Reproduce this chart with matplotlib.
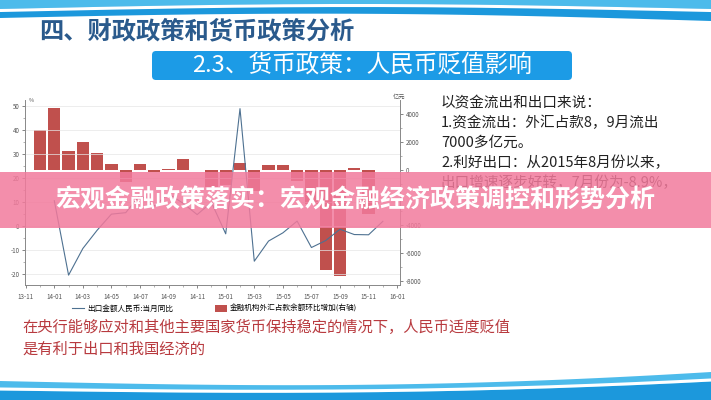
import matplotlib.pyplot as plt
import numpy as np
import pandas as pd
from matplotlib.patches import Rectangle, FancyBboxPatch

plt.rcParams["font.family"] = ["Noto Sans CJK SC", "DejaVu Sans"]
plt.rcParams["axes.unicode_minus"] = False

# --------------------------------------------------------
# Data
# --------------------------------------------------------

month_labels = [p.strftime("%y-%m") for p in pd.period_range("2013-11", "2016-01", freq="M")]
tick_labels = month_labels[::2]

# 出口金额人民币:当月同比 (%), 14-01 .. 15-12
export_months = month_labels[2:26]
export_yoy = [10.6, -20.4, -9.3, -1.7, 5.0, 5.6, 13.0, 8.4, 13.4, 9.6, 4.8, 9.9,
              -3.2, 48.9, -14.6, -6.2, -2.8, 2.1, -8.9, -6.0, -1.3, -3.5, -3.6, 2.0]

# 金融机构外汇占款余额环比增加 (亿元), 13-12 .. 15-11
fx_months = month_labels[1:25]
fx_change = [2840, 4440, 1330, 1980, 1210, 400, -880, 400, -200, 20, 750, 10,
             -1240, -1100, 450, -1500, 320, 320, -820, -2500, -7230, -7610, 100, -3160]

left_ticks = [-20, -10, 0, 10, 20, 30, 40, 50]
right_ticks = [-8000, -6000, -4000, 0, 2000, 4000]

title = "四、财政政策和货币政策分析"
subtitle = "2.3、货币政策：人民币贬值影响"
banner = "宏观金融政策落实：宏观金融经济政策调控和形势分析"
side_lines = [
    "以资金流出和出口来说：",
    "1.资金流出：外汇占款8，9月流出",
    "7000多亿元。",
    "2.利好出口：从2015年8月份以来，",
    "出口增速逐步好转，7月份为-8.9%，",
]
bottom_lines = [
    "在央行能够应对和其他主要国家货币保持稳定的情况下，人民币适度贬值",
    "是有利于出口和我国经济的",
]

W, H = 711, 400

fig = plt.figure(figsize=(W / 100, H / 100), dpi=100)
fig.patch.set_facecolor("white")

# --------------------------------------------------------
# Slide decoration (pixel coords)
# --------------------------------------------------------

deco = fig.add_axes([0, 0, 1, 1], zorder=0)
deco.set_xlim(0, W)
deco.set_ylim(H, 0)
deco.axis("off")

xs = np.linspace(0, W, 300)
s = np.sin(np.pi * xs / W)

deco.fill_between(xs, 0, 18 - 5 * s + 3 * (xs / W) ** 2, color="#1C98DC", lw=0)
deco.fill_between(xs, 0, 9 - 5 * s, color="#4DBBEB", lw=0)
deco.plot(xs, 10.5 - 5 * s, color="white", lw=2.2)

deco.fill_between(xs, 381 + 5 * s - 9 * (xs / W) ** 3, H, color="#4DBBEB", lw=0)
deco.plot(xs, 389 + 3 * s - 9 * (xs / W) ** 3, color="white", lw=2.2)
deco.fill_between(xs, 390.5 + 3 * s - 9 * (xs / W) ** 3, H, color="#1C98DC", lw=0)

deco.text(39, 31, title, fontsize=17.5, fontweight="bold", color="#2A5A8C",
          ha="left", va="center")

deco.add_patch(FancyBboxPatch((152, 51), 420, 29,
                              boxstyle="round,pad=0,rounding_size=4",
                              fc="#1C9BE6", ec="none"))
deco.text(362, 65.5, subtitle, fontsize=17, color="white", ha="center", va="center")

for i, line in enumerate(side_lines):
    deco.text(441, 103 + i * 20, line, fontsize=10.5, color="#222222",
              ha="left", va="center")

for i, line in enumerate(bottom_lines):
    deco.text(22, 327 + i * 22, line, fontsize=11, color="#B83A3F",
              ha="left", va="center")

deco.text(29, 100, "%", fontsize=4, color="#555555", ha="left", va="center")
deco.text(393, 97, "亿元", fontsize=4.5, color="#555555", ha="left", va="center")

# --------------------------------------------------------
# Chart
# --------------------------------------------------------

rect = [25 / W, (H - 285) / H, 375 / W, 185 / H]

ax = fig.add_axes(rect, zorder=2)
ax.patch.set_visible(False)
ax2 = ax.twinx()
ax2.set_zorder(1)

pos = {m: i for i, m in enumerate(month_labels)}

bars = ax2.bar([pos[m] for m in fx_months], fx_change, width=0.86,
               color="#C0504D", label="金融机构外汇占款余额环比增加(右轴)")

line, = ax.plot([pos[m] for m in export_months], export_yoy,
                color="#4E7191", lw=0.8, label="出口金额人民币:当月同比")

ax.set_xlim(-0.05, 26.2)
ax.set_ylim(-24.5, 52.5)
ax2.set_ylim(-8280, 5000)

ax.set_xticks(range(0, len(month_labels), 2))
ax.set_xticklabels(tick_labels)
ax.set_xticks(range(len(month_labels)), minor=True)
ax.set_yticks(left_ticks)
ax.set_yticks(np.arange(-20, 51, 5), minor=True)
ax2.set_yticks(right_ticks)
ax2.set_yticks(np.arange(-8000, 4001, 1000), minor=True)

ax.grid(axis="y", color="#E6E6E6", lw=0.5)
ax.set_axisbelow(True)

for a in (ax, ax2):
    a.tick_params(labelsize=4.5, colors="#555555", length=2.5, width=0.5, pad=1.5)
    a.tick_params(which="minor", length=1.5, width=0.4, colors="#777777")
    for side in ("left", "right", "bottom"):
        a.spines[side].set_color("#888888")
        a.spines[side].set_linewidth(0.6)
    a.spines["top"].set_visible(False)
ax.tick_params(axis="x", pad=3)

fig.legend(handles=[line, bars], loc="center", bbox_to_anchor=(0.302, 0.2275),
           ncol=2, frameon=False, fontsize=5.5, handlelength=1.6,
           handleheight=1.0, columnspacing=5.4, handletextpad=0.4)

# --------------------------------------------------------
# Overlay banner
# --------------------------------------------------------

over = fig.add_axes([0, 0, 1, 1], zorder=5)
over.set_xlim(0, W)
over.set_ylim(H, 0)
over.patch.set_alpha(0)
over.axis("off")

over.add_patch(Rectangle((0, 172), W, 56, fc="#F27A9C", ec="none", alpha=0.85))
over.text(355, 201, banner, fontsize=18, fontweight="bold", color="white",
          ha="center", va="center")

fig.savefig("out.png", dpi=100)
